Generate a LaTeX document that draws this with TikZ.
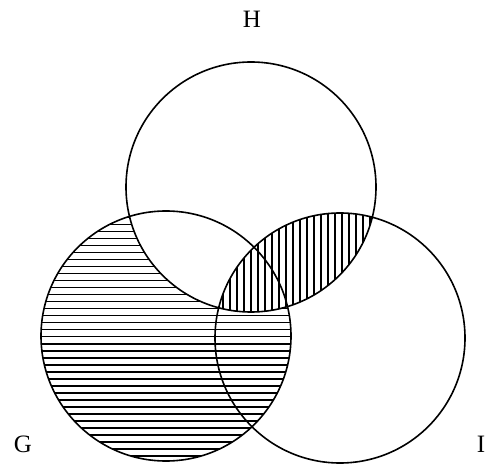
\documentclass[tikz,border=0pt]{standalone}
\usepackage{fontspec}
\setmainfont{Liberation Serif}
\begin{document}
\begin{tikzpicture}[
    x=1pt, y=-1pt,
    set/.style={draw, line width=1.6pt},
    hatch/.style={line width=1.6pt},
    setname/.style={font=\fontsize{25}{30}\selectfont}
]
\useasboundingbox (0,0) rectangle (485,465);

\coordinate (g) at (166,336);
\coordinate (h) at (251,187);
\coordinate (i) at (340,338);

% G without H: horizontal lines
\begin{scope}
  \clip (g) circle[radius=125pt];
  \foreach \k in {-13,...,23}
    \draw[hatch] (30,301.7+7*\k) -- (300,301.7+7*\k);
  \fill[white] (h) circle[radius=125pt];
\end{scope}

% H and I: vertical lines
\begin{scope}
  \clip (h) circle[radius=125pt];
  \clip (i) circle[radius=125pt];
  \foreach \k in {-3,...,21}
    \draw[hatch] (230+7*\k,200) -- (230+7*\k,320);
\end{scope}

% Sets
\draw[set] (h) circle[radius=125pt];
\draw[set] (g) circle[radius=125pt];
\draw[set] (i) circle[radius=125pt];

\node[setname] (hname) at (252,19) {H};
\node[setname] (gname) at (23,444) {G};
\node[setname] (iname) at (481,444) {I};

\end{tikzpicture}
\end{document}
